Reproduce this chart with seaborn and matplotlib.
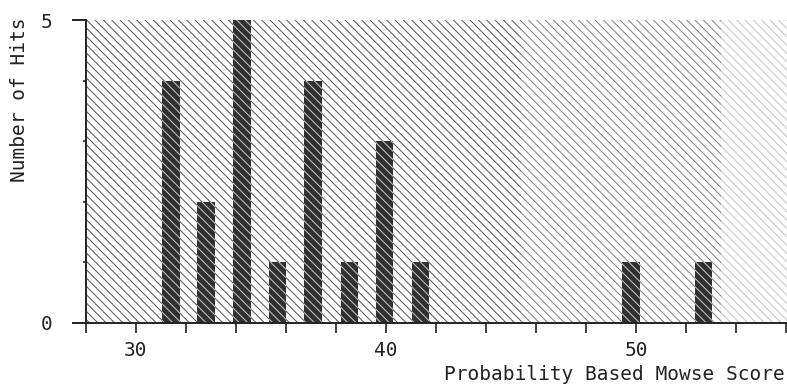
"""Mowse score histogram, redrawn from a scanned figure."""

import matplotlib
matplotlib.use("Agg")
import matplotlib.pyplot as plt
import seaborn as sns

# values
scores = [31.4, 32.8, 34.24, 35.66, 37.08, 38.54, 39.94, 41.38, 49.8, 52.7]
hits = [4, 2, 5, 1, 4, 1, 3, 1, 1, 1]
x_ticks = list(range(28, 57, 2))
x_labelled = [30, 40, 50]
y_ticks = [0, 5]
y_minor = [1, 2, 3, 4]

sns.set_style("white")
plt.rcParams["font.family"] = ["DejaVu Sans Mono", "DejaVu Sans"]
plt.rcParams["hatch.linewidth"] = 0.75

HATCH = "\\" * 4

fig = plt.figure(figsize=(7.87, 3.85), dpi=100)
ax = fig.add_axes([86 / 787, 62 / 385, 701 / 787, 303 / 385])

# shaded, hatched backdrop (gets lighter towards the right)
bands = [(28, 45.4, "#5c5c5c"), (45.4, 53.4, "#858585"), (53.4, 56.1, "#c6c6c6")]
for lo, hi, col in bands:
    ax.axvspan(lo, hi, facecolor="white", edgecolor=col, hatch=HATCH,
               linewidth=0, zorder=0)

sns.barplot(x=scores, y=hits, native_scale=True, errorbar=None, width=0.486,
            color="#303030", saturation=1, ax=ax, zorder=2)

# light stripes over the dark bars
for bar in ax.containers[0]:
    bar.set_hatch(HATCH)
    bar.set_edgecolor("#c2c2c2")
    bar.set_linewidth(0)

ax.set_xlim(28, 56.04)
ax.set_ylim(0, 5)
ax.set_xlabel("")
ax.set_ylabel("")
ax.set_xticks(x_ticks)
ax.set_xticklabels([str(t) if t in x_labelled else "" for t in x_ticks])
ax.set_yticks(y_ticks)
ax.set_yticks(y_minor, minor=True)

for side in ["top", "right"]:
    ax.spines[side].set_visible(False)
for side in ["left", "bottom"]:
    ax.spines[side].set_linewidth(1.4)
    ax.spines[side].set_color("#222222")
    ax.spines[side].set_zorder(3)

ax.tick_params(axis="x", which="major", direction="out", length=7, width=1.2,
               pad=6, labelsize=14, colors="#222222", bottom=True)
ax.tick_params(axis="y", which="major", direction="out", length=10, width=1.4,
               pad=14, labelsize=14, colors="#222222", left=True)
ax.tick_params(axis="y", which="minor", direction="out", length=2.5, width=1.2,
               colors="#222222", left=True)

fig.text(20 / 787, 1 - 100 / 385, "Number of Hits", rotation=90,
         ha="center", va="center", fontsize=14, color="#222222")
fig.text(785 / 787, 1 - 374 / 385, "Probability Based Mowse Score",
         ha="right", va="center", fontsize=14, color="#222222")

fig.savefig("out.png", dpi=100)
